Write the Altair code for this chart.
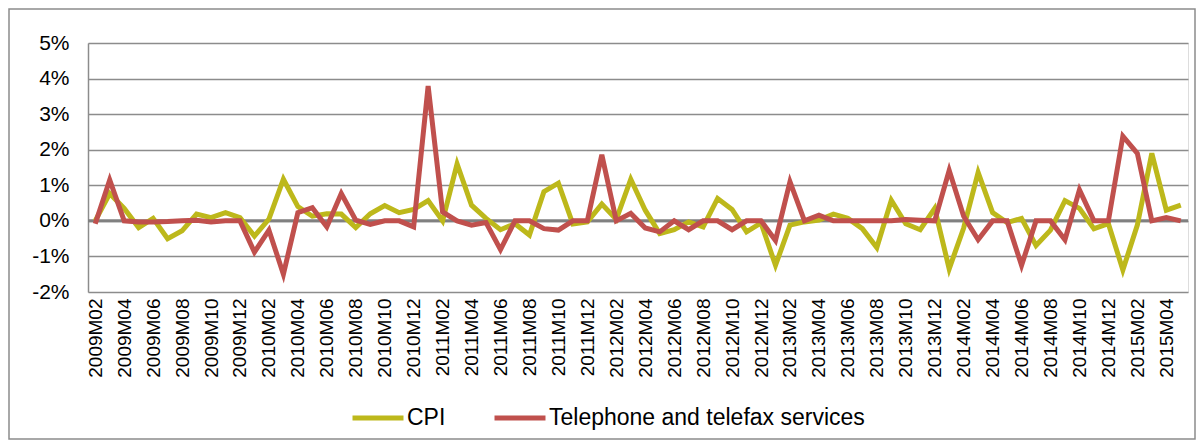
import altair as alt
import pandas as pd

months = [
    "2009M02", "2009M03", "2009M04", "2009M05", "2009M06", "2009M07", "2009M08", "2009M09", "2009M10", "2009M11", "2009M12",
    "2010M01", "2010M02", "2010M03", "2010M04", "2010M05", "2010M06", "2010M07", "2010M08", "2010M09", "2010M10", "2010M11", "2010M12",
    "2011M01", "2011M02", "2011M03", "2011M04", "2011M05", "2011M06", "2011M07", "2011M08", "2011M09", "2011M10", "2011M11", "2011M12",
    "2012M01", "2012M02", "2012M03", "2012M04", "2012M05", "2012M06", "2012M07", "2012M08", "2012M09", "2012M10", "2012M11", "2012M12",
    "2013M01", "2013M02", "2013M03", "2013M04", "2013M05", "2013M06", "2013M07", "2013M08", "2013M09", "2013M10", "2013M11", "2013M12",
    "2014M01", "2014M02", "2014M03", "2014M04", "2014M05", "2014M06", "2014M07", "2014M08", "2014M09", "2014M10", "2014M11", "2014M12",
    "2015M01", "2015M02", "2015M03", "2015M04", "2015M05",
]

tick_labels = [
    "2009M02", "2009M04", "2009M06", "2009M08", "2009M10", "2009M12",
    "2010M02", "2010M04", "2010M06", "2010M08", "2010M10", "2010M12",
    "2011M02", "2011M04", "2011M06", "2011M08", "2011M10", "2011M12",
    "2012M02", "2012M04", "2012M06", "2012M08", "2012M10", "2012M12",
    "2013M02", "2013M04", "2013M06", "2013M08", "2013M10", "2013M12",
    "2014M02", "2014M04", "2014M06", "2014M08", "2014M10", "2014M12",
    "2015M02", "2015M04",
]

y_ticks = [-2, -1, 0, 1, 2, 3, 4, 5]

cpi = [
    0.0, 0.77, 0.35, -0.19, 0.07, -0.5, -0.28, 0.19, 0.09, 0.23, 0.09,
    -0.43, 0.05, 1.17, 0.4, 0.13, 0.2, 0.19, -0.19, 0.2, 0.43, 0.23, 0.32,
    0.57, 0.0, 1.6, 0.44, 0.07, -0.25, -0.08, -0.4, 0.82, 1.06, -0.09, -0.03,
    0.47, 0.04, 1.17, 0.3, -0.36, -0.25, -0.03, -0.17, 0.63, 0.32, -0.31, -0.06,
    -1.25, -0.12, -0.03, 0.02, 0.19, 0.07, -0.22, -0.75, 0.58, -0.08, -0.25, 0.35,
    -1.35, -0.2, 1.36, 0.23, -0.05, 0.07, -0.69, -0.26, 0.57, 0.35, -0.22, -0.08,
    -1.38, -0.12, 1.9, 0.3, 0.44,
]

telephone = [
    -0.08, 1.15, 0.0, -0.03, -0.03, -0.02, 0.0, 0.02, -0.03, 0.0, 0.0,
    -0.88, -0.26, -1.5, 0.23, 0.37, -0.17, 0.77, 0.02, -0.1, 0.0, 0.0, -0.17,
    3.79, 0.25, 0.0, -0.12, -0.05, -0.81, 0.0, 0.0, -0.22, -0.26, 0.0, 0.0,
    1.86, 0.0, 0.21, -0.2, -0.31, 0.0, -0.25, 0.0, 0.0, -0.25, 0.0, 0.0,
    -0.55, 1.1, 0.0, 0.16, 0.0, 0.0, 0.0, 0.0, 0.0, 0.04, 0.02, 0.0,
    1.42, 0.13, -0.53, 0.0, 0.0, -1.25, 0.0, 0.0, -0.53, 0.87, 0.0, 0.0,
    2.38, 1.9, 0.0, 0.09, 0.0,
]

series_names = ["CPI", "Telephone and telefax services"]
series_colors = ["#BDB81B", "#C0504D"]

rows = []
for m, v in zip(months, cpi):
    rows.append({"month": m, "value": v, "series": series_names[0]})
for m, v in zip(months, telephone):
    rows.append({"month": m, "value": v, "series": series_names[1]})
df = pd.DataFrame(rows)
zero_df = pd.DataFrame({"value": [0]})

FONT = "Liberation Sans"
W, H = 1100, 249

y_axis = alt.Axis(
    title=None,
    values=y_ticks,
    labelExpr="datum.value + '%'",
    labelFontSize=21,
    labelFont=FONT,
    labelColor="#000000",
    labelPadding=19,
    labelOverlap=False,
    ticks=False,
    domain=True,
    domainColor="#8C8C8C",
    domainWidth=1.5,
    grid=True,
    gridColor="#8C8C8C",
    gridWidth=1.5,
)
y_scale = alt.Scale(domain=[-2, 5], nice=False, zero=False)

lines = alt.Chart(df).mark_line(strokeWidth=5, strokeJoin="miter").encode(
    x=alt.X(
        "month:O",
        sort=months,
        scale=alt.Scale(type="point", padding=0.5),
        axis=alt.Axis(
            title=None,
            values=tick_labels,
            labelAngle=270,
            labelFontSize=19,
            labelFont=FONT,
            labelColor="#000000",
            labelPadding=6,
            labelOverlap=False,
            ticks=False,
            domain=False,
            grid=False,
        ),
    ),
    y=alt.Y("value:Q", scale=y_scale, axis=y_axis),
    color=alt.Color(
        "series:N",
        scale=alt.Scale(domain=series_names, range=series_colors),
        legend=alt.Legend(
            title=None,
            orient="none",
            legendX=262,
            legendY=347,
            direction="horizontal",
            symbolType="stroke",
            symbolSize=2600,
            symbolStrokeWidth=5,
            labelFontSize=23,
            labelFont=FONT,
            labelColor="#000000",
            labelOffset=1,
            labelLimit=600,
            columnPadding=38,
        ),
    ),
)

zero_line = alt.Chart(zero_df).mark_rule(color="#808080", strokeWidth=3).encode(
    y=alt.Y("value:Q", scale=y_scale, axis=y_axis)
)

frame = alt.Chart(zero_df).mark_rect(
    fillOpacity=0, stroke="#8C8C8C", strokeWidth=1.5
).encode(
    x=alt.value(-79), x2=alt.value(1107), y=alt.value(-34), y2=alt.value(396)
)

chart = alt.layer(zero_line, lines, frame).properties(
    width=W,
    height=H,
    autosize=alt.AutoSizeParams(type="none"),
    padding={"left": 80, "top": 35, "right": 8, "bottom": 148},
).configure_view(stroke=None).configure(background="white")

chart.save("out.html", embed_options={"renderer": "svg", "actions": False})
